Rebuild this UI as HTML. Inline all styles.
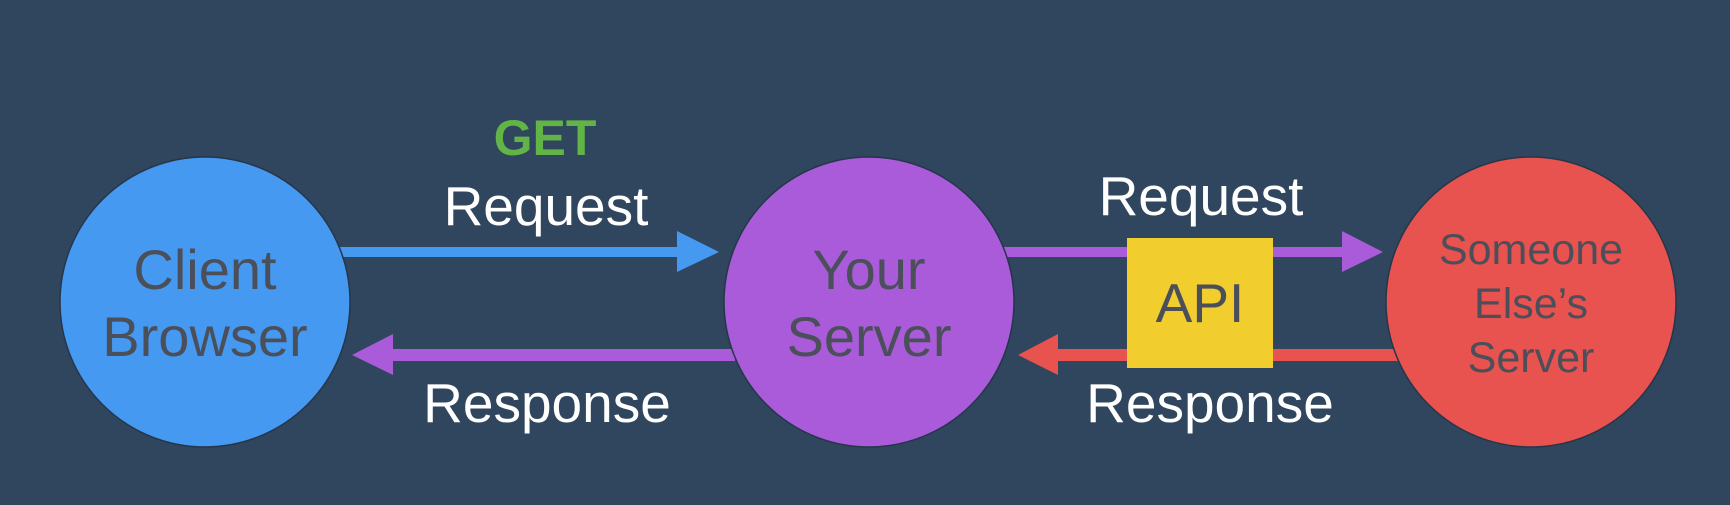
<!DOCTYPE html>
<html><head><meta charset="utf-8"><style>
html,body{margin:0;padding:0;background:#30455e;}
svg{display:block}
text{font-family:"Liberation Sans",sans-serif;}
</style></head><body>
<svg width="1730" height="505" viewBox="0 0 1730 505" xmlns="http://www.w3.org/2000/svg">
<rect width="1730" height="505" fill="#30455e"/>
<!-- arrows -->
<rect x="330" y="247" width="350" height="10" fill="#4699f1"/>
<polygon points="677,231 719,252 677,272" fill="#4699f1"/>
<rect x="390" y="349" width="345" height="12" fill="#a95bd9"/>
<polygon points="393,334 352,355 393,375" fill="#a95bd9"/>
<rect x="990" y="247" width="355" height="10" fill="#a95bd9"/>
<polygon points="1342,231 1383,252 1342,272" fill="#a95bd9"/>
<rect x="1055" y="349" width="345" height="12" fill="#e8524f"/>
<polygon points="1058,334 1018,355 1058,375" fill="#e8524f"/>
<!-- circles -->
<circle cx="205" cy="302" r="145" fill="#4699f1" stroke="#26364a" stroke-width="1.5"/>
<circle cx="869" cy="302" r="145" fill="#a95bd9" stroke="#26364a" stroke-width="1.5"/>
<circle cx="1531" cy="302" r="145" fill="#e8524f" stroke="#26364a" stroke-width="1.5"/>
<!-- API -->
<rect x="1127" y="238" width="146" height="130" fill="#f2cd2e"/>
<text x="1200" y="322" font-size="55" fill="#4a4f5a" text-anchor="middle">API</text>
<!-- labels -->
<text x="545" y="155" font-size="50" font-weight="bold" fill="#62b446" text-anchor="middle">GET</text>
<text x="546" y="225" font-size="55" fill="#ffffff" text-anchor="middle">Request</text>
<text x="547" y="422" font-size="55" fill="#ffffff" text-anchor="middle">Response</text>
<text x="1201" y="215" font-size="55" fill="#ffffff" text-anchor="middle">Request</text>
<text x="1210" y="422" font-size="55" fill="#ffffff" text-anchor="middle">Response</text>
<g fill="#4a4f5a" text-anchor="middle" font-size="56">
<text x="205" y="289">Client</text>
<text x="205" y="356">Browser</text>
<text x="869" y="289">Your</text>
<text x="869" y="356">Server</text>
</g>
<g fill="#4a4f5a" text-anchor="middle" font-size="43">
<text x="1531" y="264">Someone</text>
<text x="1531" y="318">Else’s</text>
<text x="1531" y="372">Server</text>
</g>
</svg>
</body></html>
